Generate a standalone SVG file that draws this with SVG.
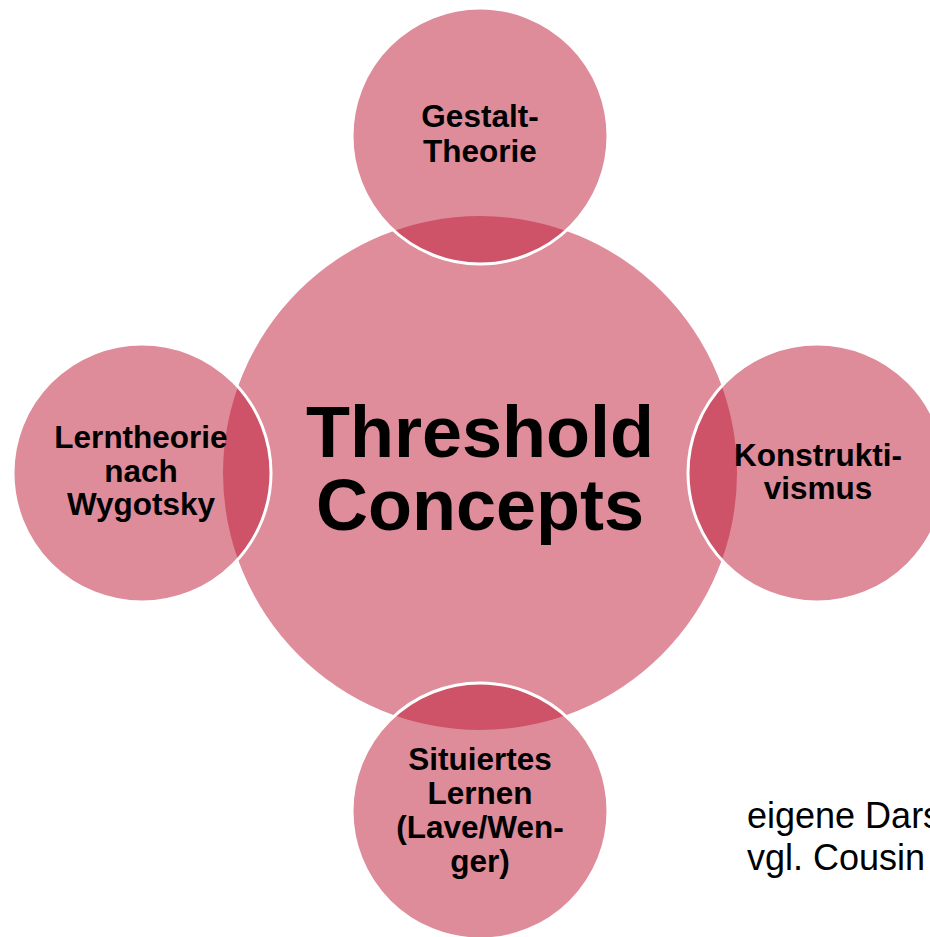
<svg xmlns="http://www.w3.org/2000/svg" width="930" height="937" viewBox="0 0 930 937">
<style>
.center{fill:#DF8D9B;}
.sat{fill:#BE1A36;fill-opacity:0.5;stroke:#FFFFFF;stroke-width:3;}
.lbl{font-family:"Liberation Sans",Arial,sans-serif;font-weight:bold;fill:#000;text-anchor:middle;font-size:31.5px;}
.big{font-family:"Liberation Sans",Arial,sans-serif;font-weight:bold;fill:#000;text-anchor:middle;font-size:72px;}
.note{font-family:"Liberation Sans",Arial,sans-serif;fill:#000;font-size:36px;}
</style>
<rect width="930" height="937" fill="#FFFFFF"/>
<g id="threshold-concepts">
<circle class="center" cx="480" cy="473" r="257"/>
</g>
<g id="gestalt-theorie">
<circle class="sat" cx="480" cy="136" r="128"/>
</g>
<g id="lerntheorie-wygotsky">
<circle class="sat" cx="142" cy="473" r="129"/>
</g>
<g id="konstruktivismus">
<circle class="sat" cx="817" cy="473" r="129"/>
</g>
<g id="situiertes-lernen">
<circle class="sat" cx="480" cy="811" r="128"/>
</g>
<g id="labels">
<text class="big" x="480" y="457">Threshold</text>
<text class="big" x="480" y="530">Concepts</text>
<text class="lbl" x="480" y="127">Gestalt-</text>
<text class="lbl" x="480" y="162">Theorie</text>
<text class="lbl" x="141" y="448">Lerntheorie</text>
<text class="lbl" x="141" y="482">nach</text>
<text class="lbl" x="141" y="515">Wygotsky</text>
<text class="lbl" x="818" y="466">Konstrukti-</text>
<text class="lbl" x="818" y="499">vismus</text>
<text class="lbl" x="480" y="770">Situiertes</text>
<text class="lbl" x="480" y="804">Lernen</text>
<text class="lbl" x="480" y="838">(Lave/Wen-</text>
<text class="lbl" x="480" y="872">ger)</text>
</g>
<g id="connectors"></g>
<g id="source">
<text class="note" x="747" y="828">eigene Dars</text>
<text class="note" x="747" y="870">vgl. Cousin</text>
</g>
</svg>
